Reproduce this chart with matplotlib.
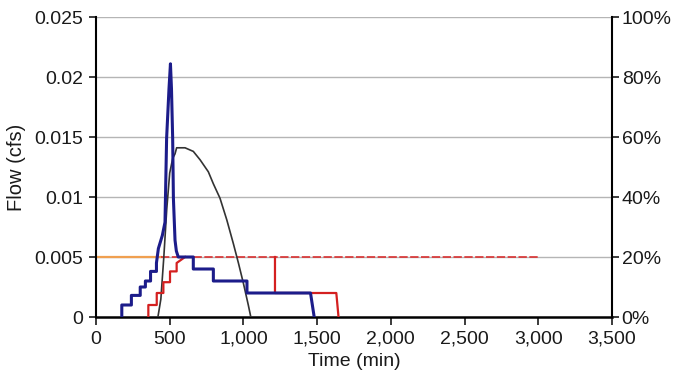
import matplotlib
matplotlib.use("Agg")
import matplotlib.pyplot as plt
from matplotlib.ticker import FuncFormatter, PercentFormatter

plt.rcParams['font.family'] = ['Liberation Sans', 'DejaVu Sans']

# Blue hydrograph (cfs)
blue_t = [175, 175, 240, 240, 300, 300, 335, 335, 370, 370, 410, 410, 423, 450, 468, 479, 495, 505,
          512, 520, 525, 536, 545, 558, 660, 660, 796, 796, 1024, 1024, 1455, 1480]
blue_q = [0, 0.001, 0.001, 0.0018, 0.0018, 0.0025, 0.0025, 0.003, 0.003, 0.0038, 0.0038, 0.0045, 0.0057,
          0.0068, 0.0079, 0.0149, 0.019, 0.0211, 0.019, 0.0149, 0.0099, 0.0064, 0.0055, 0.005, 0.005,
          0.004, 0.004, 0.003, 0.003, 0.002, 0.002, 0.0]

# Red stepped series (cfs)
red_t = [355, 355, 412, 412, 457, 457, 502, 502, 547, 547, 604]
red_q = [0, 0.001, 0.001, 0.002, 0.002, 0.0029, 0.0029, 0.0038, 0.0038, 0.0045, 0.005]
red2_t = [1214, 1214, 1630, 1645]
red2_q = [0.005, 0.002, 0.002, 0.0]

# Horizontal level line (cfs)
orange_t = [0, 440]
orange_q = [0.005, 0.005]
level_t = [440, 3010]
level_q = [0.005, 0.005]

# Black curve (cfs)
black_t = [420, 440, 460, 480, 500, 520, 536, 547, 604, 660, 706, 762, 796, 841, 887, 932, 966,
           1000, 1033, 1050]
black_q = [0, 0.0015, 0.005, 0.009, 0.012, 0.0132, 0.0136, 0.0141, 0.0141, 0.0138, 0.0131, 0.0121,
           0.0111, 0.0099, 0.0081, 0.0061, 0.0045, 0.0028, 0.001, 0.0]

x_ticks = [0, 500, 1000, 1500, 2000, 2500, 3000, 3500]
y_ticks = [0, 0.005, 0.01, 0.015, 0.02, 0.025]
y2_ticks = [0, 0.2, 0.4, 0.6, 0.8, 1.0]

txt = '#1a1a1a'
fig = plt.figure(figsize=(6.79, 3.89), dpi=100)
ax = fig.add_axes([96/679, 1-317/389, (612-96)/679, 300/389])

for yv in y_ticks[1:]:
    ax.axhline(yv, color='#b5b5b5', lw=1.0, zorder=1)

ax.plot(orange_t, orange_q, color='#f0a050', lw=1.6, zorder=2)
ax.plot(level_t, level_q, color='#d83030', lw=1.2, ls=(0, (5, 1.5)), zorder=2)
ax.plot(black_t, black_q, color='#333333', lw=1.2, zorder=3)
ax.plot(red_t, red_q, color='#d42020', lw=1.6, zorder=4)
ax.plot(red2_t, red2_q, color='#d42020', lw=1.6, zorder=4)
ax.plot(blue_t, blue_q, color='#1c1c8a', lw=2.2, zorder=5)

ax.set_xlim(0, 3500)
ax.set_ylim(0, 0.025)
ax.set_xticks(x_ticks)
ax.set_yticks(y_ticks)
ax.xaxis.set_major_formatter(FuncFormatter(lambda v, p: f"{int(v):,}"))
ax.yaxis.set_major_formatter(FuncFormatter(lambda v, p: f"{v:g}"))
ax.tick_params(axis='both', labelsize=14, colors=txt, direction='out', length=5, width=1.2, pad=4)
ax.tick_params(axis='x', length=6)
ax.spines['top'].set_visible(False)
ax.spines['right'].set_visible(False)
ax.spines['left'].set_linewidth(1.5)
ax.spines['bottom'].set_linewidth(1.8)
ax.set_xlabel('Time (min)', fontsize=14, color=txt, labelpad=4)
ax.set_ylabel('Flow (cfs)', fontsize=14.5, color=txt, labelpad=6)

ax2 = ax.twinx()
ax2.set_ylim(0, 1.0)
ax2.set_yticks(y2_ticks)
ax2.yaxis.set_major_formatter(PercentFormatter(1.0, decimals=0))
ax2.tick_params(axis='y', labelsize=14, colors=txt, direction='out', length=5, width=1.2, pad=2)
ax2.spines['right'].set_linewidth(1.5)
for s in ['top', 'left', 'bottom']:
    ax2.spines[s].set_visible(False)

fig.savefig('out.png', dpi=100)
